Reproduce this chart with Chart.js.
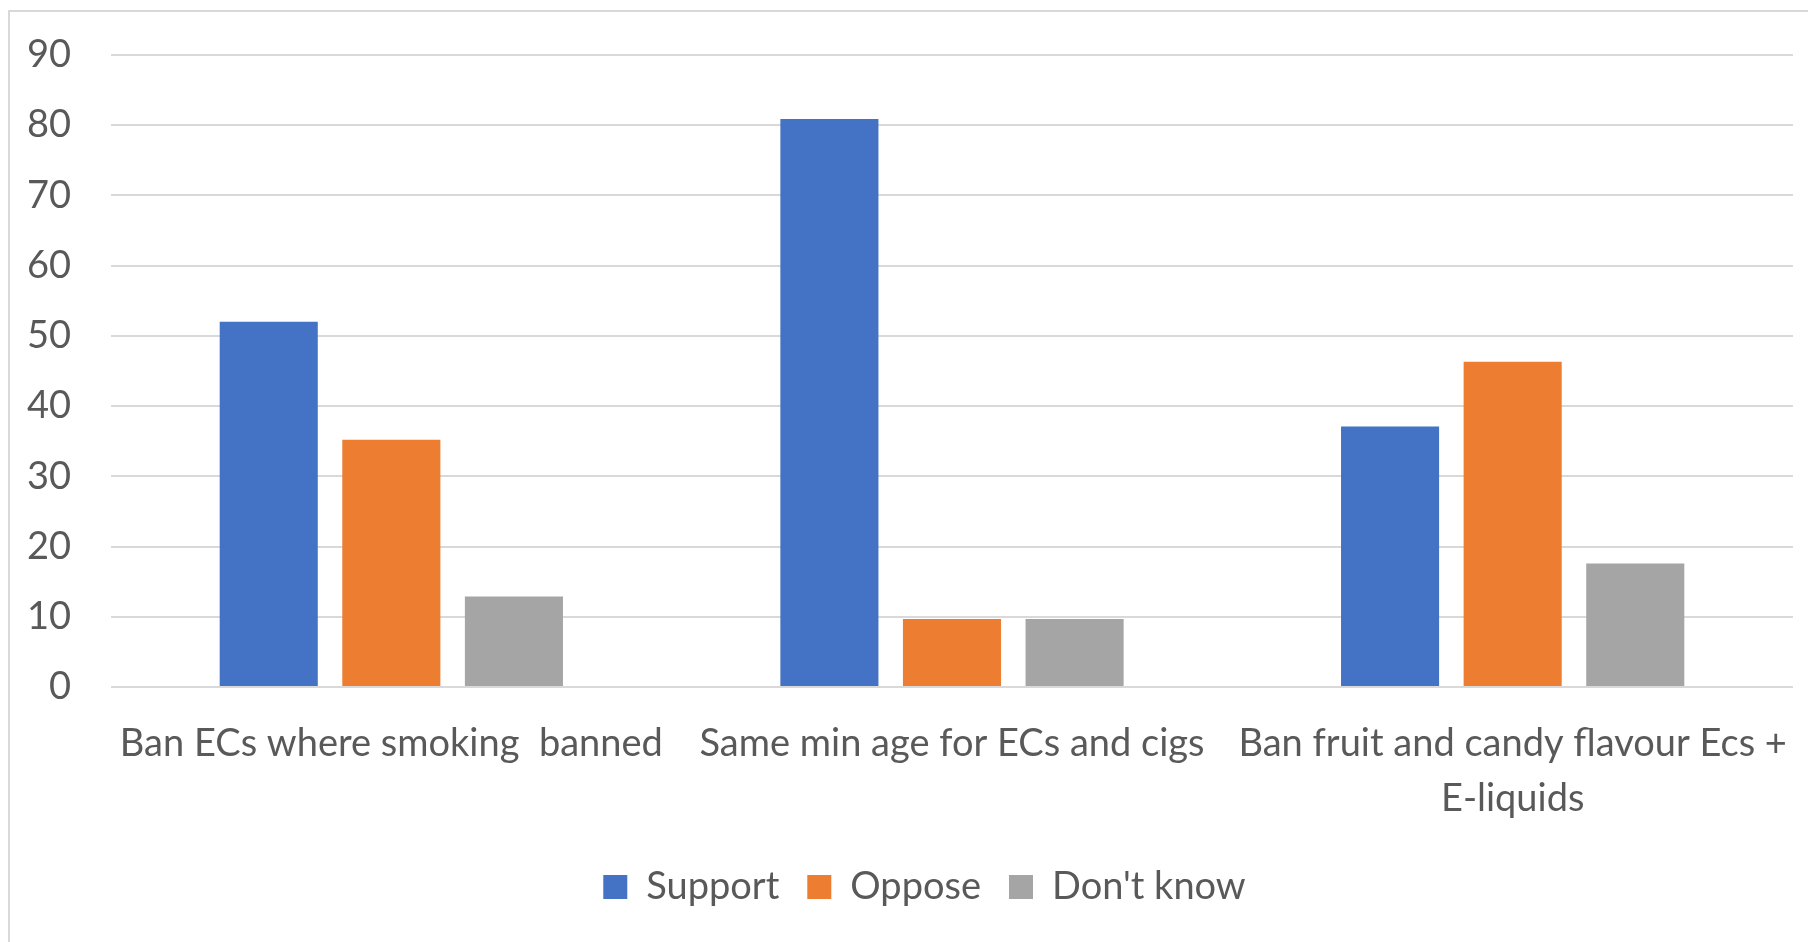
<!DOCTYPE html>
<html>
<head>
<meta charset="utf-8">
<script src="https://cdn.jsdelivr.net/npm/chart.js@4"></script>
<style>
    html, body { margin: 0; padding: 0; background: #fff; overflow: hidden; }
    #frame {
        position: absolute; left: 8px; top: 10px;
        width: 1900px; height: 1000px;
        border: 2px solid #d9d9d9;
    }
    #wrap { position: absolute; left: 0; top: 0; width: 1808px; height: 942px; }
</style>
</head>
<body>
<div id="frame"></div>
<div id="wrap"><canvas id="surveyChart"></canvas></div>
<script>
const categories = [
    "Ban ECs where smoking  banned",
    "Same min age for ECs and cigs",
    ["Ban fruit and candy flavour Ecs +", "E-liquids"]
];
const support = [52.0, 80.9, 37.1];
const oppose = [35.2, 9.7, 46.3];
const dontKnow = [12.9, 9.7, 17.6];

const FONT = "Lato, 'Liberation Sans', sans-serif";
const TEXT = "#595959";

// nudge the legend a bit right, like the original
const legendShift = {
    id: "legendShift",
    beforeDraw(chart) {
        if (chart.legend) {
            chart.legend.left += 28;
            chart.legend.right += 28;
        }
    },
    afterDraw(chart) {
        if (chart.legend) {
            chart.legend.left -= 28;
            chart.legend.right -= 28;
        }
    },
};

const ctx = document.getElementById("surveyChart").getContext("2d");

new Chart(ctx, {
    type: "bar",
    data: {
        labels: categories,
        datasets: [
            { label: "Support", data: support, backgroundColor: "#4472C4" },
            { label: "Oppose", data: oppose, backgroundColor: "#ED7D31" },
            { label: "Don't know", data: dontKnow, backgroundColor: "#A5A5A5" },
        ],
    },
    options: {
        responsive: true,
        maintainAspectRatio: false,
        animation: false,
        categoryPercentage: 0.656,
        barPercentage: 0.8,
        layout: { padding: { left: 0, right: 15, top: 55, bottom: 26 } },
        plugins: {
            tooltip: { enabled: false },
            legend: {
                position: "bottom",
                labels: {
                    color: TEXT,
                    font: { family: FONT, size: 38 },
                    boxWidth: 24,
                    boxHeight: 24,
                    padding: 28,
                },
            },
        },
        scales: {
            x: {
                grid: { display: false, drawTicks: false },
                border: { display: false },
                ticks: {
                    color: TEXT,
                    font: { family: FONT, size: 38, lineHeight: 1.45 },
                    padding: 29,
                    maxRotation: 0,
                    autoSkip: false,
                },
                afterFit: (scale) => {
                    scale.height = 153;
                    scale.paddingLeft = 0;
                    scale.paddingRight = 0;
                },
            },
            y: {
                min: 0,
                max: 90,
                grid: { color: "#d9d9d9", lineWidth: 2, drawTicks: false },
                border: { display: false },
                ticks: {
                    stepSize: 10,
                    color: TEXT,
                    font: { family: FONT, size: 38 },
                    padding: 40,
                },
                afterFit: (scale) => {
                    scale.width = 111;
                    scale.paddingTop = 0;
                    scale.paddingBottom = 0;
                },
            },
        },
    },
    plugins: [legendShift],
});
</script>
</body>
</html>
